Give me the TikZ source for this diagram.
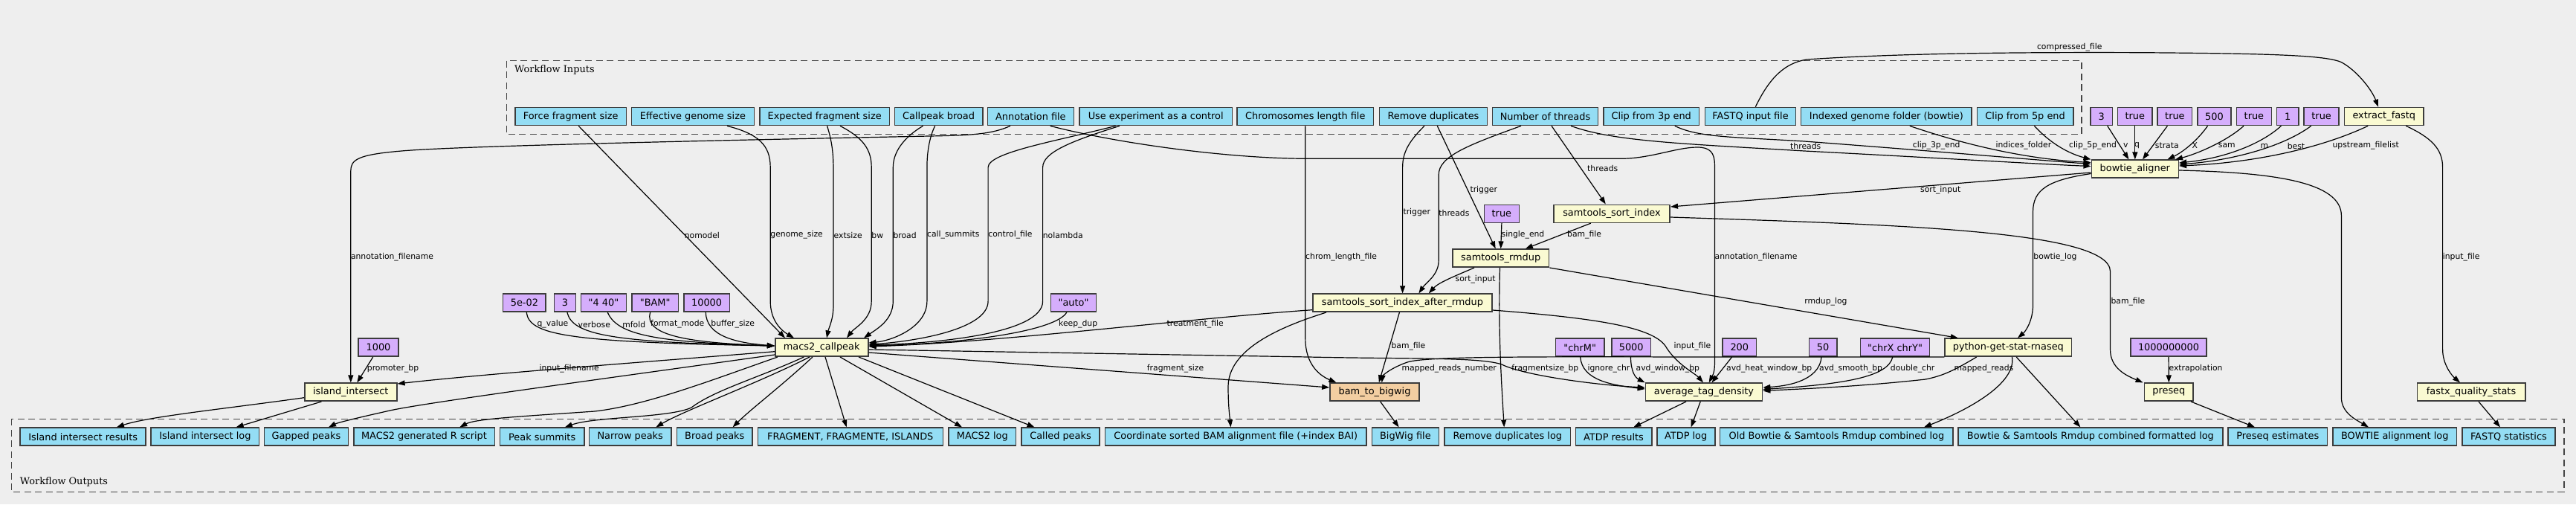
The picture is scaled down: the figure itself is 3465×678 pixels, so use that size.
\documentclass[tikz,border=0pt]{standalone}
\usepackage{fontspec}
\newfontfamily\gvsans{DejaVu Sans}
\newfontfamily\gvserif{DejaVu Serif}
\usetikzlibrary{arrows.meta}
\definecolor{bgc}{HTML}{EEEEEE}
\definecolor{inblue}{HTML}{94DDF4}
\definecolor{stepy}{HTML}{FAFAD2}
\definecolor{defp}{HTML}{D5AEFC}
\definecolor{subo}{HTML}{F3CEA1}
\definecolor{bord}{HTML}{3C3C3C}
\definecolor{clc}{HTML}{454545}
\newcommand\gvnodefont{\gvsans\fontsize{12.9}{15}\selectfont}
\newcommand\gvlabfont{\gvsans\fontsize{10.8}{13}\selectfont}
\newcommand\gvclfont{\gvserif\fontsize{12.9}{15}\selectfont}
\tikzset{
 nbox/.style={draw=bord, line width=1.6pt, minimum height=24pt, inner sep=0pt, font=\gvnodefont},
 io/.style={nbox, fill=inblue},
 stp/.style={nbox, fill=stepy},
 dft/.style={nbox, fill=defp},
 sub/.style={nbox, fill=subo},
 edge/.style={line width=1.2pt, -{Triangle[length=10pt,width=7pt]}},
 lab/.style={anchor=west, inner sep=0pt, font=\gvlabfont},
 clus/.style={draw=clc, line width=1.5pt, dash pattern=on 9pt off 5.5pt},
 cll/.style={anchor=west, inner sep=0pt, font=\gvclfont}
}
\begin{document}
\begin{tikzpicture}[x=1pt,y=-1pt]
\path[use as bounding box, fill=bgc] (0,0) rectangle (3465,678);
% clusters
\draw[clus] (681.4,81.7) rectangle (2800.2,180.7);
\node[cll] (cin) at (692,94) {Workflow Inputs};
\draw[clus] (15.3,563.3) rectangle (3449,661.7);
\node[cll] (cout) at (26.8,648) {Workflow Outputs};
% input nodes
\node[io, minimum width=149.6pt] (ffs) at (767.7,156.5) {Force fragment size};
\node[io, minimum width=164.9pt] (egs) at (931.9,156.5) {Effective genome size};
\node[io, minimum width=174.3pt] (efs) at (1109.2,156.5) {Expected fragment size};
\node[io, minimum width=118.5pt] (cpb) at (1262.6,156.5) {Callpeak broad};
\node[io, minimum width=115.9pt] (anf) at (1386.4,156.5) {Annotation file};
\node[io, minimum width=205.4pt] (uec) at (1554.7,156.5) {Use experiment as a control};
\node[io, minimum width=183.5pt] (clf) at (1755.8,156.5) {Chromosomes length file};
\node[io, minimum width=144.9pt] (rmd) at (1928,156.5) {Remove duplicates};
\node[io, minimum width=141.9pt] (nth) at (2078.5,156.5) {Number of threads};
\node[io, minimum width=128.8pt] (c3p) at (2221.2,156.5) {Clip from 3p end};
\node[io, minimum width=122.3pt] (fqi) at (2354.5,156.5) {FASTQ input file};
\node[io, minimum width=229.5pt] (igf) at (2537.4,156.5) {Indexed genome folder (bowtie)};
\node[io, minimum width=129.2pt] (c5p) at (2724.1,156.5) {Clip from 5p end};
% bowtie defaults
\node[dft, minimum width=29.4pt] (pv) at (2826.8,156.5) {3};
\node[dft, minimum width=46.6pt] (pq) at (2871.8,156.5) {true};
\node[dft, minimum width=46.5pt] (pst) at (2925.4,156.5) {true};
\node[dft, minimum width=45.4pt] (pX) at (2978.5,156.5) {500};
\node[dft, minimum width=46.9pt] (psam) at (3031.9,156.5) {true};
\node[dft, minimum width=29.4pt] (pm) at (3077.2,156.5) {1};
\node[dft, minimum width=46.9pt] (pbest) at (3122.6,156.5) {true};
\node[stp, minimum width=106.6pt] (xf) at (3206.8,156.5) {extract\_fastq};
\node[stp, minimum width=117pt] (bowtie) at (2871.8,227.2) {bowtie\_aligner};
\node[dft, minimum width=47pt] (ptr) at (2019.9,287.3) {true};
\node[stp, minimum width=156.4pt] (ssi) at (2168,287.3) {samtools\_sort\_index};
\node[stp, minimum width=129.8pt] (rmdup) at (2018.7,347.2) {samtools\_rmdup};
% row 407
\node[dft, minimum width=57.7pt] (p5e) at (705.4,407.2) {5e-02};
\node[dft, minimum width=29.1pt] (p3b) at (759.9,407.2) {3};
\node[dft, minimum width=61.2pt] (p440) at (811.9,407.2) {"4 40"};
\node[dft, minimum width=62.7pt] (pbam) at (881.2,407.2) {"BAM"};
\node[dft, minimum width=61.6pt] (p10k) at (950.6,407.2) {10000};
\node[dft, minimum width=61.1pt] (pauto) at (1444,407.2) {"auto"};
\node[stp, minimum width=241.4pt] (ssiar) at (1886.4,407.2) {samtools\_sort\_index\_after\_rmdup};
% row 467
\node[dft, minimum width=53.5pt] (p1000) at (509,467.2) {1000};
\node[stp, minimum width=125pt] (macs) at (1105.2,467.2) {macs2\_callpeak};
\node[dft, minimum width=65.3pt] (pchrM) at (2125.2,467.2) {"chrM"};
\node[dft, minimum width=52.8pt] (p5000) at (2194.2,467.2) {5000};
\node[dft, minimum width=45.3pt] (p200) at (2339.8,467.2) {200};
\node[dft, minimum width=37.4pt] (p50) at (2452,467.2) {50};
\node[dft, minimum width=92.9pt] (pxy) at (2549,467.2) {"chrX chrY"};
\node[stp, minimum width=170.2pt] (py) at (2701.3,467.2) {python-get-stat-rnaseq};
\node[dft, minimum width=101.9pt] (p1e9) at (2917,467.2) {1000000000};
% row 527
\node[stp, minimum width=124pt] (isl) at (471.8,527.2) {island\_intersect};
\node[sub, minimum width=120.1pt] (b2b) at (1849,527.2) {bam\_to\_bigwig};
\node[stp, minimum width=157.1pt] (atd) at (2292,527.2) {average\_tag\_density};
\node[stp, minimum width=65.6pt] (pre) at (2917.3,527.2) {preseq};
\node[stp, minimum width=145.4pt] (fxq) at (3324,527.2) {fastx\_quality\_stats};
% outputs
\node[io, minimum width=169pt] (o1) at (111.7,587.2) {Island intersect results};
\node[io, minimum width=145.4pt] (o2) at (275.9,587.2) {Island intersect log};
\node[io, minimum width=112.8pt] (o3) at (411.9,587.2) {Gapped peaks};
\node[io, minimum width=189.6pt] (o4) at (570.5,587.2) {MACS2 generated R script};
\node[io, minimum width=113.2pt] (o5) at (729.2,587.2) {Peak summits};
\node[io, minimum width=110.5pt] (o6) at (847.7,587.2) {Narrow peaks};
\node[io, minimum width=101.4pt] (o7) at (961.3,587.2) {Broad peaks};
\node[io, minimum width=249pt] (o8) at (1143.8,587.2) {FRAGMENT, FRAGMENTE, ISLANDS};
\node[io, minimum width=90.6pt] (o9) at (1321.3,587.2) {MACS2 log};
\node[io, minimum width=105.2pt] (o10) at (1426.5,587.2) {Called peaks};
\node[io, minimum width=351.5pt] (o11) at (1662.2,587.2) {Coordinate sorted BAM alignment file (+index BAI)};
\node[io, minimum width=90.2pt] (o12) at (1890.4,587.2) {BigWig file};
\node[io, minimum width=169.1pt] (o13) at (2027.8,587.2) {Remove duplicates log};
\node[io, minimum width=102.4pt] (o14) at (2170.5,587.2) {ATDP results};
\node[io, minimum width=78pt] (o15) at (2267.7,587.2) {ATDP log};
\node[io, minimum width=313.6pt] (o16) at (2470.4,587.2) {Old Bowtie \& Samtools Rmdup combined log};
\node[io, minimum width=356.2pt] (o17) at (2811.9,587.2) {Bowtie \& Samtools Rmdup combined formatted log};
\node[io, minimum width=133.1pt] (o18) at (3063.8,587.2) {Preseq estimates};
\node[io, minimum width=166.7pt] (o19) at (3221.2,587.2) {BOWTIE alignment log};
\node[io, minimum width=125.3pt] (o20) at (3374.4,587.2) {FASTQ statistics};
% ---- edges into macs2
\draw[edge] (ffs.south -| 778.2,0) -- (macs.north -| 1056,0);
\draw[edge] (egs.south -| 978,0) .. controls (1020,180) and (1036.2,195) .. (1036.2,225) -- (1036.2,405) .. controls (1036.2,432) and (1052,445) .. (macs.north -| 1068,0);
\draw[edge] (efs.south -| 1112.6,0) .. controls (1119,190) and (1121,205) .. (1121,230) -- (1121,410) .. controls (1121,430) and (1115,440) .. (macs.north -| 1112,0);
\draw[edge] (efs.south -| 1130,0) .. controls (1160,185) and (1172.2,200) .. (1172.2,225) -- (1172.2,405) .. controls (1172.2,430) and (1150,440) .. (macs.north -| 1139,0);
\draw[edge] (cpb.south -| 1241.5,0) .. controls (1215,185) and (1201.3,205) .. (1201.3,225) -- (1201.3,405) .. controls (1201.3,430) and (1180,442) .. (macs.north -| 1162,0);
\draw[edge] (cpb.south -| 1257.6,0) .. controls (1250,185) and (1246.9,205) .. (1246.9,225) -- (1246.9,405) .. controls (1246.9,440) and (1200,458) .. (macs.east |- 0,461);
\draw[edge] (uec.south -| 1500.6,0) .. controls (1420,190) and (1329.1,205) .. (1329.1,225) -- (1329.1,405) .. controls (1329.1,445) and (1220,460) .. (macs.east |- 0,463);
\draw[edge] (uec.south -| 1506,0) .. controls (1440,190) and (1402.6,205) .. (1402.6,225) -- (1402.6,405) .. controls (1402.6,450) and (1250,462) .. (macs.east |- 0,464);
\draw[edge] (pauto.south -| 1434.8,0) .. controls (1420,445) and (1300,462) .. (macs.east |- 0,465);
\draw[edge] (ssiar.west |- 0,416.7) .. controls (1600,428) and (1350,460) .. (macs.east |- 0,466);
\draw[edge] (p5e.south -| 708.2,0) .. controls (712,450) and (760,460) .. (macs.west |- 0,465);
\draw[edge] (p3b.south -| 762.9,0) .. controls (770,450) and (820,460) .. (macs.west |- 0,465);
\draw[edge] (p440.south -| 817.3,0) .. controls (830,450) and (880,460) .. (macs.west |- 0,465);
\draw[edge] (pbam.south -| 874.7,0) .. controls (865,452) and (930,461) .. (macs.west |- 0,465);
\draw[edge] (p10k.south -| 949.3,0) .. controls (950,452) and (990,461) .. (macs.west |- 0,465);
% ---- island
\draw[edge] (anf.south -| 1359,0) .. controls (1335,180) and (1310,182) .. (1250,183) .. controls (1000,188) and (620,196) .. (540,203) .. controls (480,208) and (471.8,215) .. (471.8,230) -- (isl.north -| 471.8,0);
\draw[edge] (p1000.south -| 501.7,0) -- (isl.north -| 480.3,0);
\draw[edge] (macs.west |- 0,472.7) .. controls (850,488) and (650,503) .. (isl.east |- 0,516);
% ---- chrom length
\draw[edge] (clf.south) -- (1755.8,455) .. controls (1755.8,490) and (1775,505) .. (b2b.north -| 1797.4,0);
% ---- rmdup related
\draw[edge] (rmd.south -| 1916,0) .. controls (1895,190) and (1886.6,205) .. (1886.6,225) -- (ssiar.north -| 1886.6,0);
\draw[edge] (rmd.south -| 1933.3,0) -- (rmdup.north -| 2011.7,0);
\draw[edge] (nth.south -| 2046,0) .. controls (1975,195) and (1935.2,210) .. (1935.2,235) -- (1935.2,350) .. controls (1935.2,370) and (1918,380) .. (ssiar.north -| 1908.4,0);
\draw[edge] (nth.south -| 2087,0) -- (ssi.north -| 2159.8,0);
\draw[edge] (nth.south -| 2113,0) .. controls (2170,190) and (2260,193) .. (2427,203) .. controls (2600,212) and (2750,221) .. (bowtie.west |- 0,223.5);
\draw[edge] (c3p.south -| 2252.8,0) .. controls (2285,185) and (2330,184) .. (2427,190) .. controls (2600,203) and (2750,216) .. (bowtie.west |- 0,220.5);
\draw[edge] (igf.south -| 2568.8,0) .. controls (2650,197) and (2730,214) .. (bowtie.west |- 0,218.5);
\draw[edge] (c5p.south -| 2736.4,0) .. controls (2760,195) and (2785,207) .. (bowtie.north west);
\draw[edge] (pv.south -| 2834.7,0) -- (bowtie.north -| 2863.4,0);
\draw[edge] (pq.south) -- (bowtie.north);
\draw[edge] (pst.south -| 2915.4,0) -- (bowtie.north -| 2882,0);
\draw[edge] (pX.south -| 2969.5,0) .. controls (2955,190) and (2935,205) .. (bowtie.north -| 2915.4,0);
\draw[edge] (psam.south -| 3018,0) .. controls (2995,190) and (2955,207) .. (bowtie.north -| 2926,0);
\draw[edge] (pm.south -| 3068.4,0) .. controls (3040,195) and (2990,213) .. (bowtie.east |- 0,219);
\draw[edge] (pbest.south -| 3108.7,0) .. controls (3070,198) and (3000,216) .. (bowtie.east |- 0,221);
\draw[edge] (xf.south -| 3185.2,0) .. controls (3120,200) and (3030,219) .. (bowtie.east |- 0,223);
\draw[edge] (fqi.north -| 2361.3,0) .. controls (2380,105) and (2400,85) .. (2430,80) .. controls (2550,72) and (2700,70) .. (2880,70.7) .. controls (3050,72) and (3130,74) .. (3150,84) .. controls (3170,95) and (3190,120) .. (xf.north -| 3199,0);
\draw[edge] (xf.south -| 3236.3,0) .. controls (3270,185) and (3285.6,200) .. (3285.6,225) -- (3285.6,470) .. controls (3285.6,490) and (3298,505) .. (fxq.north -| 3309,0);
\draw[edge] (bowtie.east |- 0,229) .. controls (3060,232) and (3149.4,245) .. (3149.4,290) -- (3149.4,535) .. controls (3149.4,555) and (3170,565) .. (o19.north -| 3186,0);
\draw[edge] (bowtie.west |- 0,232) -- (ssi.east |- 0,278);
\draw[edge] (bowtie.west |- 0,233.5) .. controls (2755,242) and (2734.5,255) .. (2734.5,285) -- (2734.5,410) .. controls (2734.5,432) and (2724,446) .. (py.north -| 2714,0);
\draw[edge] (ssi.south -| 2139.9,0) -- (rmdup.north -| 2051.9,0);
\draw[edge] (ptr.south) -- (rmdup.north);
\draw[edge] (ssi.east |- 0,292) .. controls (2550,302) and (2838.5,310) .. (2838.5,365) -- (2838.5,470) .. controls (2838.5,495) and (2860,505) .. (pre.north -| 2882.5,0);
\draw[edge] (rmdup.south -| 1983,0) .. controls (1955,372) and (1935,380) .. (ssiar.north -| 1921.8,0);
\draw[edge] (rmdup.south -| 2017.5,0) .. controls (2015,450) and (2020,520) .. (o13.north -| 2023.2,0);
\draw[edge] (rmdup.south east) -- (py.north -| 2633.8,0);
\draw[edge] (ssiar.south -| 1882.4,0) -- (b2b.north -| 1854.8,0);
\draw[edge] (ssiar.east |- 0,417) .. controls (2150,428) and (2222,440) .. (2240,465) .. controls (2255,490) and (2280,502) .. (atd.north -| 2291,0);
\draw[edge] (ssiar.south -| 1784,0) .. controls (1720,440) and (1652,470) .. (1652,520) .. controls (1652,545) and (1654,560) .. (o11.north -| 1655.5,0);
\draw[edge] (py.west |- 0,480) -- (2340,480) .. controls (2100,480) and (1920,478) .. (1893,487) .. controls (1870,495) and (1860,505) .. (b2b.north -| 1858.6,0);
\draw[edge] (py.south -| 2658.7,0) .. controls (2630,497) and (2615,505) .. (2590,510) .. controls (2500,520) and (2420,523) .. (atd.east |- 0,525.5);
\draw[edge] (py.south -| 2706.5,0) .. controls (2712,515) and (2650,550) .. (o16.north -| 2588,0);
\draw[edge] (py.south -| 2712.2,0) -- (o17.north -| 2798.4,0);
\draw[edge] (pchrM.south -| 2125.7,0) .. controls (2128,512) and (2170,518) .. (atd.west |- 0,523);
\draw[edge] (p5000.south -| 2193.5,0) .. controls (2193.5,500) and (2200,508) .. (atd.north west);
\draw[edge] (p200.south -| 2329.6,0) -- (atd.north -| 2302.5,0);
\draw[edge] (p50.south -| 2450,0) .. controls (2448,505) and (2420,518) .. (atd.east |- 0,521);
\draw[edge] (pxy.south -| 2545.8,0) .. controls (2540,505) and (2490,516) .. (atd.east |- 0,523.5);
\draw[edge] (anf.south -| 1412.6,0) .. controls (1500,192) and (1650,213.3) .. (1760,213.3) -- (2180,213.3) .. controls (2220,213.3) and (2255,198) .. (2283,198) .. controls (2300,198) and (2306.4,205) .. (2306.4,222) -- (2306.4,490) .. controls (2306.4,502) and (2302,508) .. (atd.north -| 2298.7,0);
\draw[edge] (macs.east |- 0,470) -- (1760,480) .. controls (1900,483) and (1990,480) .. (2020,490) .. controls (2050,505) and (2150,518) .. (atd.west |- 0,521);
\draw[edge] (macs.east |- 0,474) -- (b2b.west |- 0,521);
\draw[edge] (atd.south -| 2268,0) -- (o14.north -| 2197.3,0);
\draw[edge] (atd.south -| 2287.2,0) -- (o15.north -| 2274.6,0);
\draw[edge] (b2b.south -| 1856.7,0) -- (o12.north -| 1881.6,0);
\draw[edge] (isl.west |- 0,534.7) .. controls (300,550) and (200,560) .. (o1.north -| 156.9,0);
\draw[edge] (isl.south -| 432.4,0) -- (o2.north -| 317.6,0);
\draw[edge] (macs.west |- 0,477) .. controls (800,511) and (560,543) .. (520,553) .. controls (480,562) and (455,568) .. (o3.north -| 442,0);
\draw[edge] (macs.south -| 1046,0) .. controls (960,510) and (870,545) .. (800,553) .. controls (700,560) and (640,563) .. (o4.north -| 618.3,0);
\draw[edge] (macs.south -| 1081.3,0) .. controls (1020,508) and (960,525) .. (930,548) .. controls (900,562) and (800,560) .. (o5.north -| 759.9,0);
\draw[edge] (macs.south -| 1089,0) .. controls (1020,515) and (920,552) .. (o6.north -| 882.3,0);
\draw[edge] (macs.south -| 1093,0) .. controls (1050,520) and (1010,550) .. (o7.north -| 985.6,0);
\draw[edge] (macs.south -| 1110,0) -- (o8.north -| 1138.7,0);
\draw[edge] (macs.south -| 1130,0) -- (o9.north -| 1294,0);
\draw[edge] (macs.south -| 1155,0) -- (o10.north -| 1391.5,0);
\draw[edge] (pre.south -| 2947,0) -- (o18.north -| 3033,0);
\draw[edge] (fxq.south -| 3334,0) -- (o20.north -| 3363,0);
\draw[edge] (p1e9.south) -- (pre.north);
% ---- edge labels
\node[lab] (l01) at (920.6,316) {nomodel};
\node[lab] (l02) at (1036.2,316) {genome\_size};
\node[lab] (l03) at (1121.5,316) {extsize};
\node[lab] (l04) at (1172.2,316) {bw};
\node[lab] (l05) at (1201.3,316) {broad};
\node[lab] (l06) at (1246.9,316) {call\_summits};
\node[lab] (l07) at (1329.1,316) {control\_file};
\node[lab] (l08) at (1402.6,316) {nolambda};
\node[lab] (l09) at (1756,346) {chrom\_length\_file};
\node[lab] (l10) at (471.8,346) {annotation\_filename};
\node[lab] (l11) at (2306.4,346) {annotation\_filename};
\node[lab] (l12) at (2735.2,346) {bowtie\_log};
\node[lab] (l13) at (3285.6,346) {input\_file};
\node[lab] (l14) at (1977.3,256) {trigger};
\node[lab] (l15) at (2135,226) {threads};
\node[lab] (l16) at (1887.3,286) {trigger};
\node[lab] (l17) at (1935.2,286) {threads};
\node[lab] (l18) at (2019.4,316) {single\_end};
\node[lab] (l19) at (2108,316) {bam\_file};
\node[lab] (l20) at (1957.4,376) {sort\_input};
\node[lab] (l21) at (2427.1,406) {rmdup\_log};
\node[lab] (l22) at (2839.3,406) {bam\_file};
\node[lab] (l23) at (1871.3,466) {bam\_file};
\node[lab] (l24) at (2251.3,466) {input\_file};
\node[lab] (l25) at (722.4,436) {q\_value};
\node[lab] (l26) at (777.5,436) {verbose};
\node[lab] (l27) at (837.2,436) {mfold};
\node[lab] (l28) at (875,436) {format\_mode};
\node[lab] (l29) at (956.2,436) {buffer\_size};
\node[lab] (l30) at (1424,436) {keep\_dup};
\node[lab] (l31) at (1569.5,436) {treatment\_file};
\node[lab] (l32) at (725.4,496) {input\_filename};
\node[lab] (l33) at (1542.7,496) {fragment\_size};
\node[lab] (l34) at (493.7,496) {promoter\_bp};
\node[lab] (l35) at (1885.4,496) {mapped\_reads\_number};
\node[lab] (l36) at (2033.1,496) {fragmentsize\_bp};
\node[lab] (l37) at (2135.3,496) {ignore\_chr};
\node[lab] (l38) at (2200.4,496) {avd\_window\_bp};
\node[lab] (l39) at (2321.9,496) {avd\_heat\_window\_bp};
\node[lab] (l40) at (2447,496) {avd\_smooth\_bp};
\node[lab] (l41) at (2542.7,496) {double\_chr};
\node[lab] (l42) at (2628.4,496) {mapped\_reads};
\node[lab] (l43) at (2917.3,496) {extrapolation};
\node[lab] (l44) at (2739.8,64) {compressed\_file};
\node[lab] (l45) at (2408,196) {threads};
\node[lab] (l46) at (2572.6,196) {clip\_3p\_end};
\node[lab] (l47) at (2684.3,196) {indices\_folder};
\node[lab] (l48) at (2783,196) {clip\_5p\_end};
\node[lab] (l49) at (2855.8,196) {v};
\node[lab] (l50) at (2871,196) {q};
\node[lab] (l51) at (2898.7,196) {strata};
\node[lab] (l52) at (2948.3,196) {X};
\node[lab] (l53) at (2983.7,196) {sam};
\node[lab] (l54) at (3040.4,196) {m};
\node[lab] (l55) at (3076.6,196) {best};
\node[lab] (l56) at (3137.4,196) {upstream\_filelist};
\node[lab] (l57) at (2582.9,256) {sort\_input};
\end{tikzpicture}
\end{document}
